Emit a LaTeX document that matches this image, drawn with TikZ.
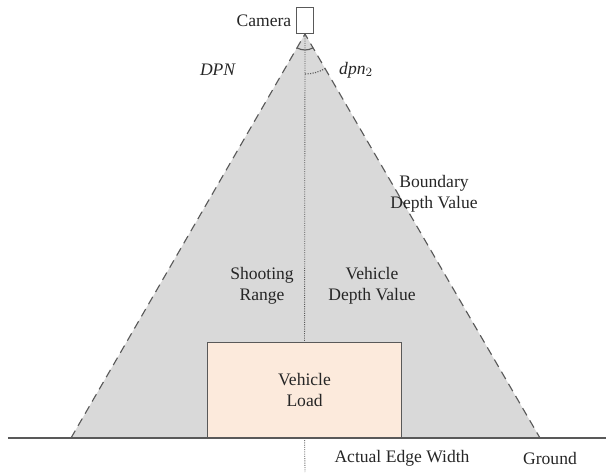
\documentclass[tikz,border=0pt]{standalone}
\usepackage{fontspec}
\setmainfont{Liberation Serif}
\usepackage{amsmath}
\usetikzlibrary{positioning,calc}
\definecolor{rangegray}{HTML}{D9D9D9}
\definecolor{loadfill}{HTML}{FCEADC}
\definecolor{edgegray}{HTML}{595959}
\tikzset{lbl/.style={font=\fontsize{12.5}{15}\selectfont,align=center,text=black!85}}
\begin{document}
\begin{tikzpicture}
\useasboundingbox (0,0) rectangle (15.15,11.8);
\coordinate (apex) at (7.625,10.95);
\coordinate (lbase) at (1.775,0.85);
\coordinate (rbase) at (13.5,0.85);
\coordinate (gl) at (0.2,0.85);
\coordinate (gr) at (15.15,0.85);
\coordinate (bot) at (7.625,0);
\fill[rangegray](apex)--(lbase)--(rbase)--cycle;
\draw[dash pattern=on 6pt off 4pt,edgegray,thick](lbase)--(apex)--(rbase);
\node[draw=edgegray,thick,fill=loadfill,minimum width=4.85cm,minimum height=2.375cm,anchor=south west,lbl] (load) at (5.175,0.85) {Vehicle\\Load};
\draw[densely dotted,edgegray,semithick](apex)--(load.north);
\draw[densely dotted,edgegray,semithick](load.south)--(bot);
\draw[edgegray,thick](gl)--(gr);
\node[draw=edgegray,semithick,fill=white,minimum width=0.42cm,minimum height=0.65cm,inner sep=0pt,anchor=south] (cam) at (apex) {};
\node[lbl,left=0pt of cam] (camlbl) {Camera};
\draw[edgegray,thick]($(apex)+(240:0.4)$) arc (240:300:0.4);
\draw[densely dotted,edgegray,thick]($(apex)+(270:1)$) arc (270:300:1);
\node[lbl] (dpn) at (5.45,10.05) {\textit{DPN}};
\node[lbl] (dpnb) at (8.9,10.05) {\textit{dpn}$_2$};
\node[lbl] (bdv) at (10.85,6.95) {Boundary\\Depth Value};
\node[lbl] (sr) at (6.55,4.65) {Shooting\\Range};
\node[lbl] (vdv) at (9.3,4.65) {Vehicle\\Depth Value};
\node[lbl] (aew) at (10.05,0.35) {Actual Edge Width};
\node[lbl] (gnd) at (13.75,0.35) {Ground};
\end{tikzpicture}
\end{document}
